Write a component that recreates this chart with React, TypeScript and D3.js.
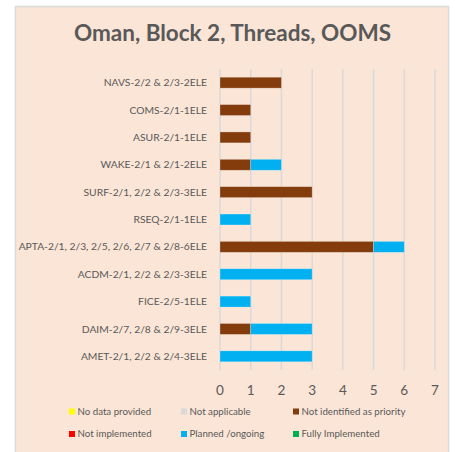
import React from "react";
import * as d3 from "d3";

const categories = [
  "NAVS-2/2 & 2/3-2ELE",
  "COMS-2/1-1ELE",
  "ASUR-2/1-1ELE",
  "WAKE-2/1 & 2/1-2ELE",
  "SURF-2/1, 2/2 & 2/3-3ELE",
  "RSEQ-2/1-1ELE",
  "APTA-2/1, 2/3, 2/5, 2/6, 2/7 & 2/8-6ELE",
  "ACDM-2/1, 2/2 & 2/3-3ELE",
  "FICE-2/5-1ELE",
  "DAIM-2/7, 2/8 & 2/9-3ELE",
  "AMET-2/1, 2/2 & 2/4-3ELE",
];

const seriesNames = [
  "No data provided",
  "Not applicable",
  "Not identified as priority",
  "Not implemented",
  "Planned /ongoing",
  "Fully Implemented",
];
const seriesColors = ["#FFFF00", "#D9D9D9", "#843C0C", "#FF0000", "#00B0F0", "#00B050"];

const noData = [0, 0, 0, 0, 0, 0, 0, 0, 0, 0, 0];
const notApplicable = [0, 0, 0, 0, 0, 0, 0, 0, 0, 0, 0];
const notIdentified = [2, 1, 1, 1, 3, 0, 5, 0, 0, 1, 0];
const notImplemented = [0, 0, 0, 0, 0, 0, 0, 0, 0, 0, 0];
const planned = [0, 0, 0, 1, 0, 1, 1, 3, 1, 2, 3];
const fully = [0, 0, 0, 0, 0, 0, 0, 0, 0, 0, 0];

const xTicks = [0, 1, 2, 3, 4, 5, 6, 7];

const seriesValues = [noData, notApplicable, notIdentified, notImplemented, planned, fully];

export default function App() {
  const W = 455;
  const H = 452;
  const font = "Lato, 'Open Sans', sans-serif";
  const textColor = "#595959";

  const rows = categories.map((c, i) => {
    const r: any = { cat: c };
    seriesNames.forEach((s, j) => (r[s] = seriesValues[j][i]));
    return r;
  });
  const stacked = d3.stack().keys(seriesNames)(rows);

  const x = d3.scaleLinear().domain([0, 7]).range([220, 435]);
  const y = d3.scaleBand().domain(categories).range([69, 370]).paddingInner(0.6).paddingOuter(0.3);

  const legendPos = [
    [69, 411.5],
    [181, 411.5],
    [293, 411.5],
    [69, 434],
    [181, 434],
    [293, 434],
  ];

  return (
    <svg
      width={W}
      height={H}
      style={{ position: "absolute", left: 0, top: 0, display: "block" }}
    >
      <rect x={0} y={0} width={W} height={H} fill="#ffffff" />
      <rect x={15.5} y={6.5} width={433} height={450} fill="#FBE5D6" stroke="#D9D9D9" strokeWidth={1.5} />
      <text
        x={232.5}
        y={41}
        textAnchor="middle"
        fontFamily={font}
        fontWeight={700}
        fontSize={22.5}
        fill={textColor}
      >
        Oman, Block 2, Threads, OOMS
      </text>
      {xTicks.map((t) => (
        <line key={"g" + t} x1={x(t)} x2={x(t)} y1={69} y2={370} stroke="#D9D9D9" strokeWidth={1.5} />
      ))}
      {stacked.map((s, j) => (
        <g key={s.key} fill={seriesColors[j]}>
          {s.map((d, i) =>
            d[1] - d[0] > 0 ? (
              <rect
                key={i}
                x={x(d[0])}
                y={y(categories[i])!}
                width={x(d[1]) - x(d[0])}
                height={y.bandwidth()}
                stroke="#ffffff"
                strokeOpacity={0.35}
                strokeWidth={0.75}
              />
            ) : null
          )}
        </g>
      ))}
      {categories.map((c) => (
        <text
          key={c}
          x={207}
          y={y(c)! + y.bandwidth() / 2}
          dy="0.35em"
          textAnchor="end"
          fontFamily={font}
          fontSize={10.3}
          fill={textColor}
        >
          {c}
        </text>
      ))}
      {xTicks.map((t) => (
        <text
          key={"t" + t}
          x={x(t)}
          y={390}
          dy="0.35em"
          textAnchor="middle"
          fontFamily={font}
          fontSize={13.5}
          fill={textColor}
        >
          {t}
        </text>
      ))}
      {seriesNames.map((s, j) => (
        <g key={"l" + s}>
          <rect x={legendPos[j][0]} y={legendPos[j][1] - 3} width={6} height={6} fill={seriesColors[j]} />
          <text
            x={legendPos[j][0] + 8.5}
            y={legendPos[j][1]}
            dy="0.35em"
            fontFamily={font}
            fontSize={9.7}
            fill={textColor}
          >
            {s}
          </text>
        </g>
      ))}
    </svg>
  );
}
